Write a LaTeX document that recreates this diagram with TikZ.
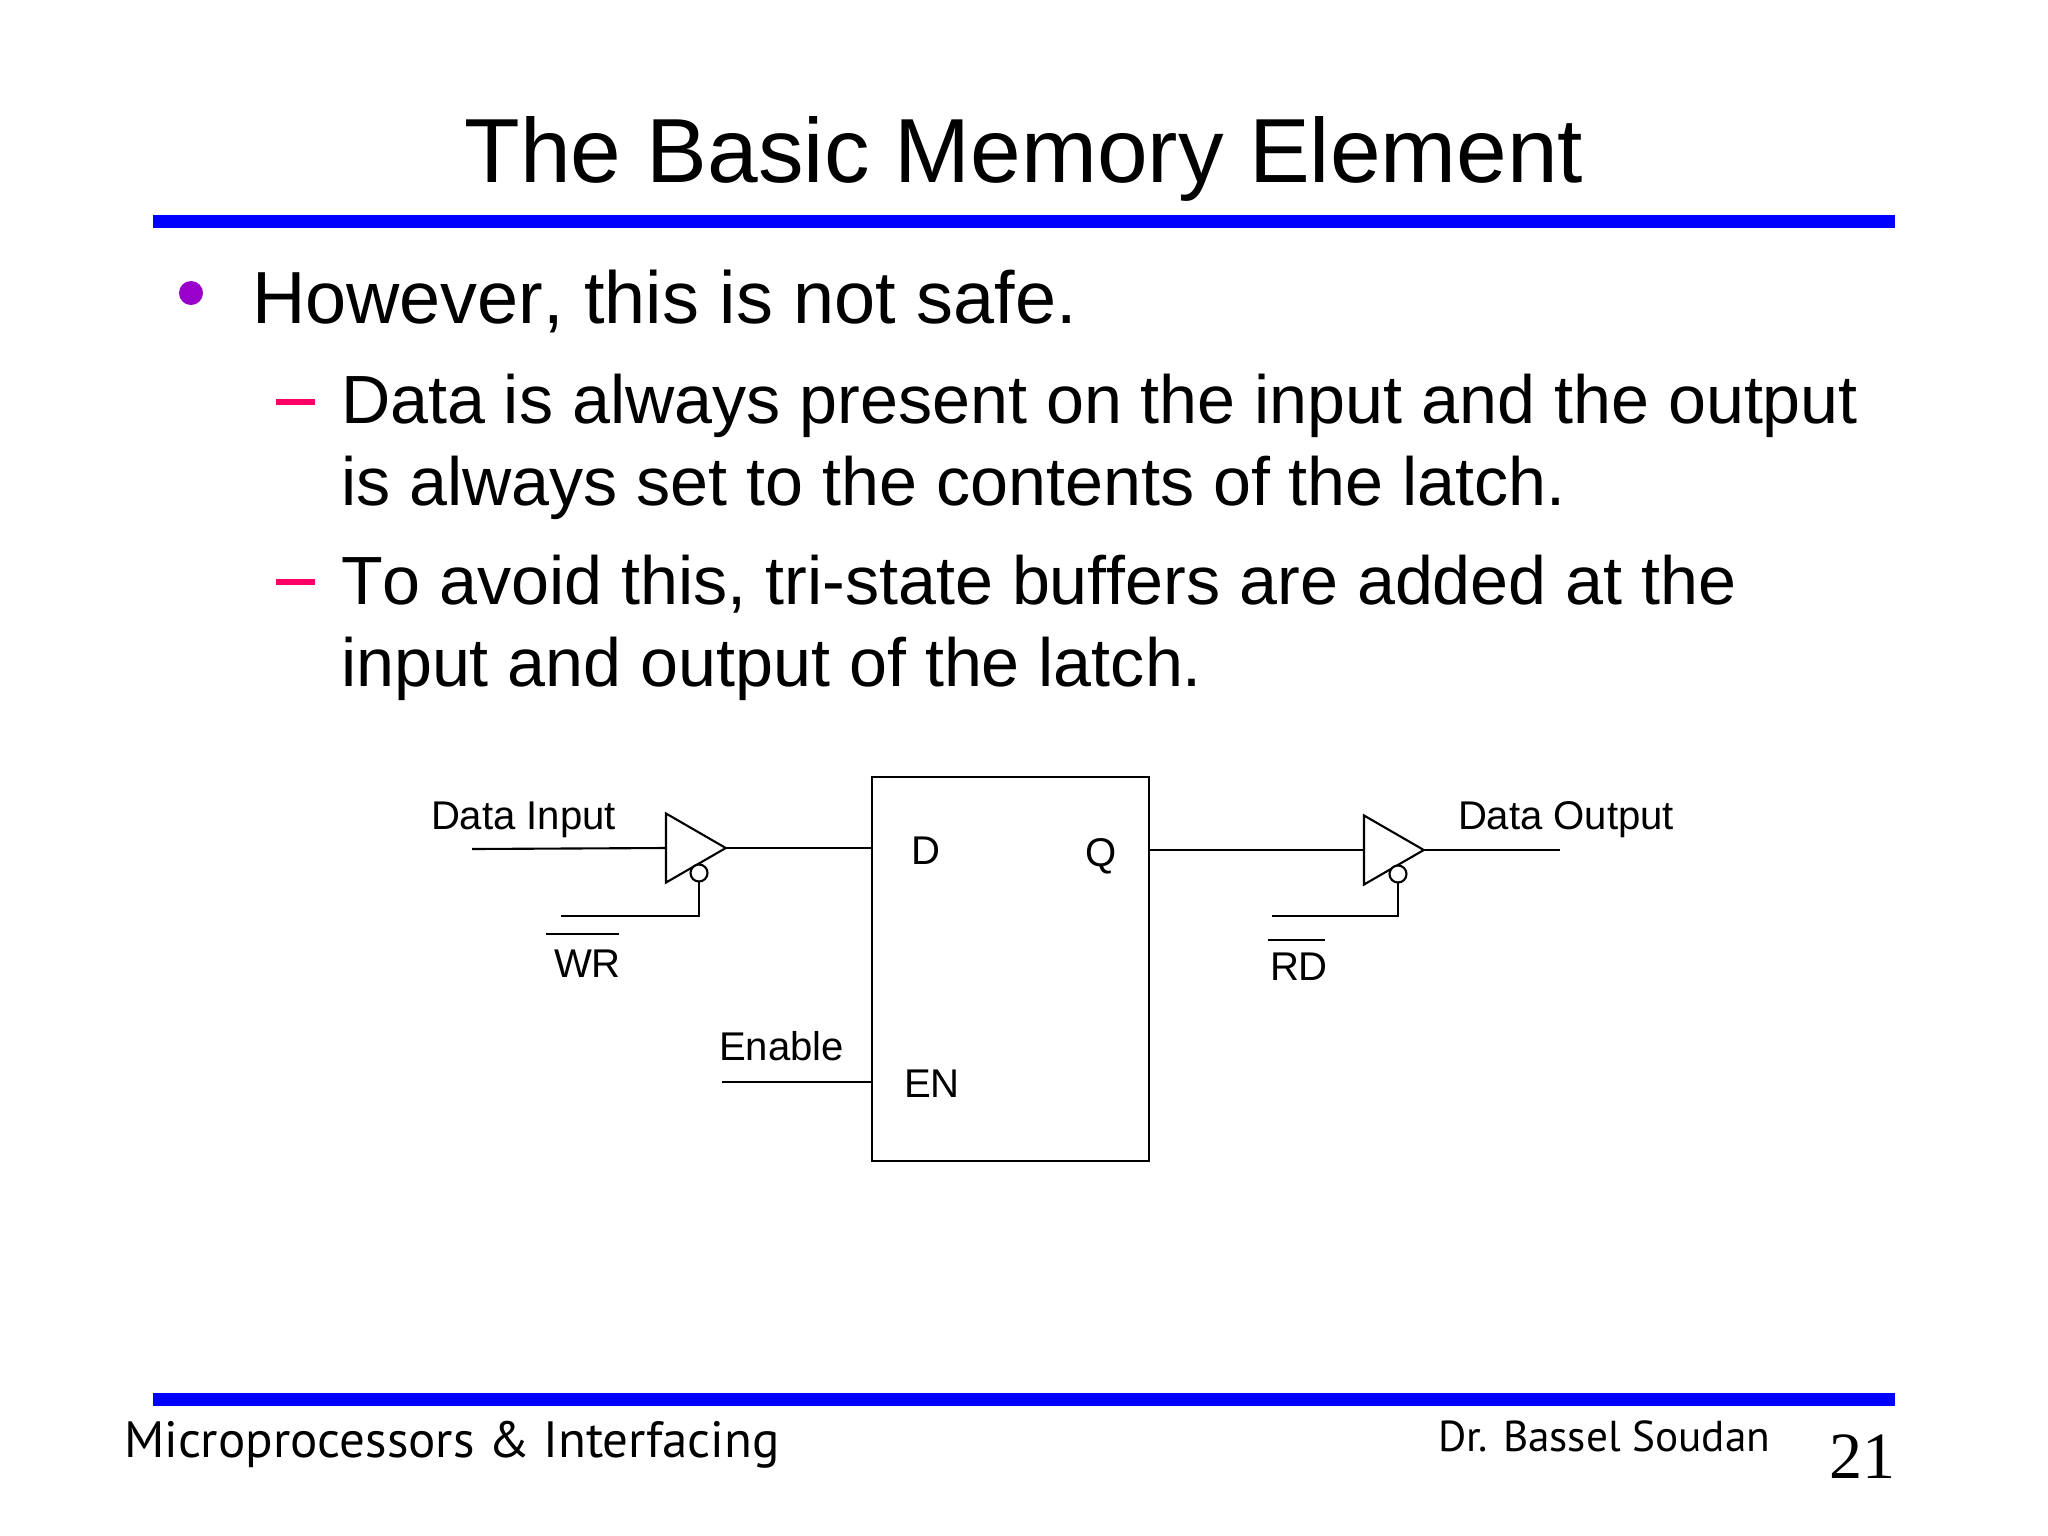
\documentclass[tikz,border=0pt]{standalone}
\usepackage{fontspec}
\setmainfont[Kerning=Off,Ligatures=NoCommon]{Liberation Sans}
\newfontfamily\footfont{PT Sans}
\newfontfamily\numfont{Liberation Serif}
\usetikzlibrary{shapes.geometric}
\definecolor{rulecol}{RGB}{0,0,255}
\definecolor{bulletcol}{RGB}{153,0,204}
\definecolor{dashcol}{RGB}{255,0,102}
\tikzset{
  every node/.style={inner sep=0pt,outer sep=0pt,anchor=base west},
  wire/.style={line width=0.6pt},
  titletext/.style={font=\fontsize{25.9}{30}\selectfont,anchor=base},
  mainitem/.style={font=\fontsize{21}{25}\selectfont},
  subitem/.style={font=\fontsize{19.4}{22}\selectfont},
  pinlabel/.style={font=\fontsize{11.4}{13}\selectfont},
  footlabel/.style={font=\footfont\fontsize{14.5}{16}\selectfont},
  footname/.style={font=\footfont\fontsize{12.3}{16}\selectfont},
  buffer/.style={draw,wire,isosceles triangle,isosceles triangle apex angle=60,minimum width=0.69cm,anchor=west},
  bubble/.style={draw,wire,fill=white,circle,minimum size=0.17cm,anchor=center},
  latchbox/.style={draw,wire,minimum width=2.765cm,minimum height=3.84cm,anchor=north west}
}
\begin{document}
\begin{tikzpicture}[x=0.01cm,y=-0.01cm]
\useasboundingbox (0,0) rectangle (2048,1536);
\fill [rulecol] (153,215) rectangle (1895,228);
\fill [rulecol] (153,1393) rectangle (1895,1406);
\node [titletext] (title) at (1024,182) {The Basic Memory Element};
\node [circle,fill=bulletcol,minimum size=0.24cm,anchor=center] (dot) at (191,293) {};
\node [mainitem] (item) at (252,323) {However, this is not safe.};
\fill [dashcol] (276,399) rectangle (315,405);
\fill [dashcol] (276,579) rectangle (315,585);
\node [subitem] (suba) at (341,423) {Data is always present on the input and the output};
\node [subitem] (subb) at (341,505) {is always set to the contents of the latch.};
\node [subitem] (subc) at (341,604) {To avoid this, tri-state buffers are added at the};
\node [subitem] (subd) at (341,686) {input and output of the latch.};
\node [latchbox] (latch) at (872,777) {};
\node [pinlabel] (pind) at (911,864) {D};
\node [pinlabel] (pinq) at (1085,866) {Q};
\node [pinlabel] (pinen) at (904,1097) {EN};
\node [buffer] (bufin) at (666,848) {};
\node [buffer] (bufout) at (1364,850) {};
\node [bubble] (wrbub) at (699,873) {};
\node [bubble] (rdbub) at (1398,874) {};
\coordinate (datain) at (472,849);
\coordinate (dataout) at (1560,850);
\coordinate (wrend) at (561,916);
\coordinate (rdend) at (1272,916);
\coordinate (enend) at (722,1082);
\coordinate (wrbara) at (546,934);
\coordinate (wrbarb) at (619,934);
\coordinate (rdbara) at (1268,940);
\coordinate (rdbarb) at (1325,940);
\draw [wire] (datain) -- (bufin.west);
\draw [wire] (bufin.apex) -- (bufin.apex-|latch.west);
\draw [wire] (latch.east|-bufout.west) -- (bufout.west);
\draw [wire] (bufout.apex) -- (dataout);
\draw [wire] (wrend) -| (wrbub.south);
\draw [wire] (rdend) -| (rdbub.south);
\draw [wire] (enend) -- (enend-|latch.west);
\draw [wire] (wrbara) -- (wrbarb);
\draw [wire] (rdbara) -- (rdbarb);
\node [pinlabel] (datainl) at (431,829) {Data Input};
\node [pinlabel] (dataoutl) at (1458,829) {Data Output};
\node [pinlabel] (wrl) at (554,977) {WR};
\node [pinlabel] (rdl) at (1270,980) {RD};
\node [pinlabel] (enl) at (719,1060) {Enable};
\node [footlabel] (footl) at (124,1457) {Microprocessors \& Interfacing};
\node [footname] (footr) at (1438,1451) {Dr. Bassel Soudan};
\node [font=\numfont\fontsize{18.8}{22}\selectfont] (pageno) at (1829,1478) {21};
\end{tikzpicture}
\end{document}
